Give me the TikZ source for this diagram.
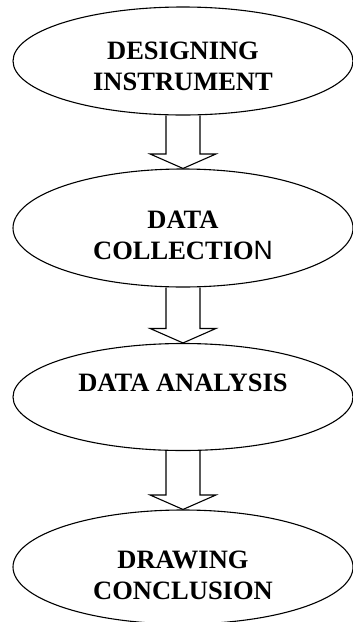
\documentclass[tikz,border=0pt]{standalone}
\usepackage{fontspec}
\setmainfont{Liberation Serif}
\setsansfont{Liberation Sans}
\usetikzlibrary{shapes.geometric,calc}

\tikzset{
  oval/.style={draw, ellipse, line width=1.1pt, inner sep=0pt, minimum width=340pt},
  caption/.style={align=center, inner sep=0pt, font=\bfseries\fontsize{26.5}{31}\selectfont},
  hollow/.style={line width=1.1pt, line join=miter, to path={
      let \p1=(\tikztostart), \p2=(\tikztotarget) in
      (\x1-17pt,\y1) -- (\x1-17pt,\y2+14.5pt) -- (\x1-33pt,\y2+14.5pt) -- (\x1,\y2)
      -- (\x1+33pt,\y2+14.5pt) -- (\x1+17pt,\y2+14.5pt) -- (\x1+17pt,\y1)}}
}

\begin{document}
\begin{tikzpicture}[x=1pt, y=1pt]
  \useasboundingbox (0,0) rectangle (353,-622);

  % the four steps
  \node[oval, minimum height=108pt] (design) at (183,-61) {};
  \node[oval, minimum height=118pt] (collect) at (183,-228) {};
  \node[oval, minimum height=107pt] (analyse) at (183,-397) {};
  \node[oval, minimum height=114pt] (conclude) at (183,-567) {};

  \node[caption] (designtxt) at ([yshift=-5pt]design.center) {DESIGNING\\INSTRUMENT};
  \node[caption] (collecttxt) at ([yshift=-7pt]collect.center) {DATA\\COLLECTIO{\mdseries\sffamily N}};
  \node[caption] (analysetxt) at ([yshift=14pt]analyse.center) {DATA ANALYSIS};
  \node[caption] (concludetxt) at ([yshift=-8pt]conclude.center) {DRAWING\\CONCLUSION};

  % hollow arrows between them
  \draw[hollow] (design.south) to (collect.north);
  \draw[hollow] (collect.south) to (analyse.north);
  \draw[hollow] (analyse.south) to (conclude.north);
\end{tikzpicture}
\end{document}
